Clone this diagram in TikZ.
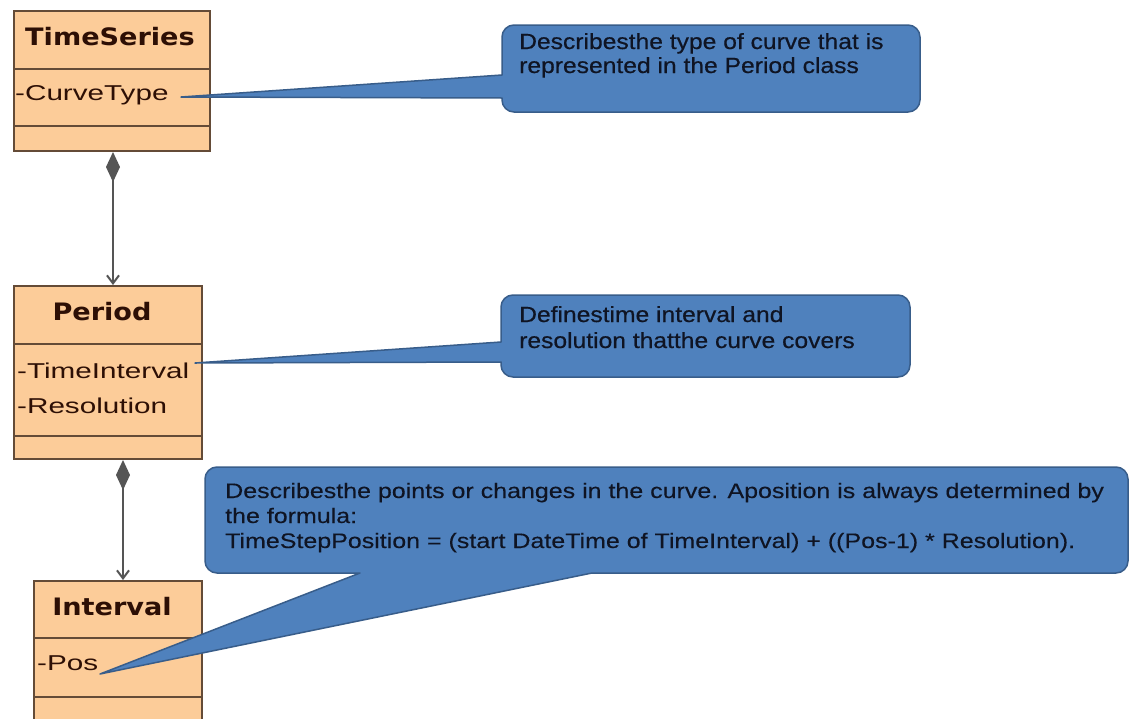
\documentclass[tikz,border=0pt]{standalone}
\usepackage{fontspec}
\setmainfont{Liberation Sans}
\newfontfamily\attrfont{Liberation Sans}[FakeStretch=1.38]
\newfontfamily\titlefont{DejaVu Sans Bold}[FakeStretch=1.13]
\newfontfamily\callfont{Liberation Sans}[FakeStretch=1.12,FakeBold=0.5]
\newfontfamily\callfontw{Liberation Sans}[FakeStretch=1.19,FakeBold=0.2]
\usetikzlibrary{arrows.meta}
\definecolor{peach}{RGB}{252,204,153}
\definecolor{boxline}{RGB}{100,75,55}
\definecolor{boxtext}{RGB}{45,15,5}
\definecolor{callfill}{RGB}{79,129,189}
\definecolor{callline}{RGB}{56,93,138}
\definecolor{calltext}{RGB}{15,20,35}
\definecolor{assoc}{RGB}{85,85,85}
\tikzset{
  classbox/.style={draw=boxline, fill=peach, line width=2pt, inner sep=0pt, anchor=north west},
  sepline/.style={draw=boxline, line width=2pt},
  titletext/.style={font={\titlefont\fontsize{24}{28}\selectfont}, text=boxtext, inner sep=0pt, anchor=base},
  attrtext/.style={font={\attrfont\fontsize{21.5}{24}\selectfont}, text=boxtext, inner sep=0pt, anchor=base west},
  calltxt/.style={font={\callfont\fontsize{22}{26}\selectfont}, text=calltext, inner sep=0pt, anchor=base west},
  calltxtw/.style={font={\callfontw\fontsize{21}{25}\selectfont}, text=calltext, inner sep=0pt, anchor=base west},
  callshape/.style={fill=callfill, draw=callline, line width=1.5pt, line join=round},
  compo/.style={draw=assoc, line width=2pt, {Diamond[length=30pt,width=14pt]}-{Straight Barb[length=8pt,width=12pt]}}
}
\begin{document}
\begin{tikzpicture}[x=1pt,y=-1pt]
\useasboundingbox (0,0) rectangle (1130,718);
\clip (0,0) rectangle (1130,718);
\fill[white] (0,0) rectangle (1130,718);

% class boxes
\node[classbox, minimum width=196pt, minimum height=140pt] (ts) at (13,10) {};
\draw[sepline] (ts.west |- 0,69) -- (ts.east |- 0,69);
\draw[sepline] (ts.west |- 0,126) -- (ts.east |- 0,126);
\node[titletext] (tstitle) at (110,45) {TimeSeries};
\node[attrtext] (tsct) at (15,100) {-CurveType};

\node[classbox, minimum width=188pt, minimum height=173pt] (per) at (13,285) {};
\draw[sepline] (per.west |- 0,344) -- (per.east |- 0,344);
\draw[sepline] (per.west |- 0,436) -- (per.east |- 0,436);
\node[titletext] (pertitle) at (102,320) {Period};
\node[attrtext] (perti) at (17,378) {-TimeInterval};
\node[attrtext] (perres) at (17,413) {-Resolution};

\node[classbox, minimum width=168pt, minimum height=160pt] (int) at (33,580) {};
\draw[sepline] (int.west |- 0,638) -- (int.east |- 0,638);
\draw[sepline] (int.west |- 0,697) -- (int.east |- 0,697);
\node[titletext] (inttitle) at (112,615) {Interval};
\node[attrtext] (intpos) at (37,670) {-Pos};

% composition connectors
\draw[compo] ([xshift=1pt]ts.south) -- ([xshift=1pt]ts.south |- per.north);
\draw[compo] ([xshift=5pt]int.north |- per.south) -- ([xshift=5pt]int.north);

% callout tips
\coordinate (tip1) at (181,97);
\coordinate (tip2) at (195,363);
\coordinate (tip3) at (100,674);

% callout 1
\draw[callshape] (502,75) -- (tip1) -- (502,98) -- (502,99)
  {[rounded corners=12pt] -- (502,112) -- (920,112) -- (920,25) -- (502,25) -- (502,55)}
  -- (502,75) -- cycle;
\node[calltxt] (c1a) at (519,49) {Describesthe type of curve that is};
\node[calltxt] (c1b) at (519,73) {represented in the Period class};

% callout 2
\draw[callshape] (501,342) -- (tip2) -- (501,362) -- (501,363)
  {[rounded corners=12pt] -- (501,377) -- (910,377) -- (910,295) -- (501,295) -- (501,320)}
  -- (501,342) -- cycle;
\node[calltxt] (c2a) at (519,322) {Definestime interval and};
\node[calltxt] (c2b) at (519,348) {resolution thatthe curve covers};

% callout 3
\draw[callshape] (592,573) -- (tip3) -- (360,573) -- (355,573)
  {[rounded corners=12pt] -- (205,573) -- (205,467) -- (1128,467) -- (1128,573) -- (610,573)}
  -- (592,573) -- cycle;
\node[calltxtw] (c3a) at (225,498) {Describesthe points or changes in the curve. Aposition is always determined by};
\node[calltxtw] (c3b) at (225,523) {the formula:};
\node[calltxtw] (c3c) at (225,548) {TimeStepPosition = (start DateTime of TimeInterval) + ((Pos-1) * Resolution).};
\end{tikzpicture}
\end{document}
